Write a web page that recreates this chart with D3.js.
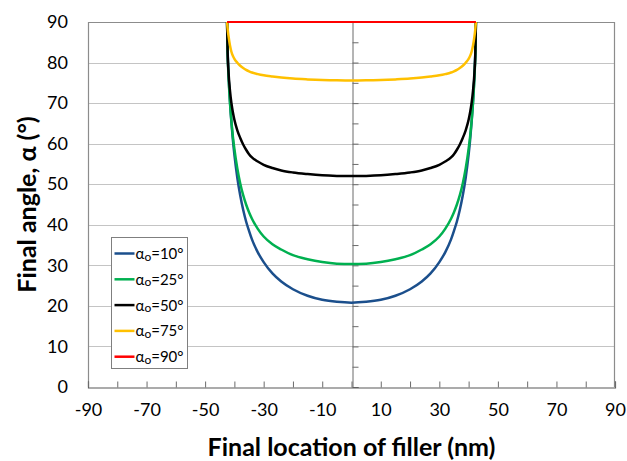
<!DOCTYPE html>
<html>
<head>
<meta charset="utf-8">
<script src="https://cdn.jsdelivr.net/npm/d3@7"></script>
<style>
  html, body { margin: 0; padding: 0; background: #fff; }
  svg { display: block; font-family: Lato, "Open Sans", "Liberation Sans", sans-serif; }
</style>
</head>
<body>
<svg id="chart" width="627" height="461"></svg>
<script>
// Final location of the filler (nm) at which each curve is sampled
const locations = [-42.5, -42.3, -42, -41.5, -41, -40.5, -40, -39, -38, -37, -36, -35, -34, -32, -30, -27, -24, -20, -15, -10, -5, 0,
                   5, 10, 15, 20, 24, 27, 30, 32, 34, 35, 36, 37, 38, 39, 40, 40.5, 41, 41.5, 42, 42.3, 42.5];

// Final angle (degrees) for each initial angle
const angle10 = [90, 82.8, 77.1, 70.3, 65.1, 60.8, 57.3, 51.6, 47.2, 43.7, 40.8, 38.5, 36.4, 33.2, 30.8, 28.0, 26.0, 24.1, 22.5, 21.5, 21.0, 20.8,
                 21.0, 21.5, 22.5, 24.1, 26.0, 28.0, 30.8, 33.2, 36.4, 38.5, 40.8, 43.7, 47.2, 51.6, 57.3, 60.8, 65.1, 70.3, 77.1, 82.8, 90];
const angle25 = [90, 82.3, 76.5, 70.1, 65.4, 61.7, 58.7, 53.9, 50.2, 47.3, 45.0, 43.1, 41.5, 39.0, 37.1, 35.2, 33.9, 32.5, 31.5, 30.8, 30.4, 30.3,
                 30.4, 30.8, 31.5, 32.5, 33.9, 35.2, 37.1, 39.0, 41.5, 43.1, 45.0, 47.3, 50.2, 53.9, 58.7, 61.7, 65.4, 70.1, 76.5, 82.3, 90];
const angle50 = [90, 82.4, 77.6, 73.0, 69.9, 67.7, 65.9, 63.3, 61.4, 59.8, 58.5, 57.4, 56.6, 55.6, 54.8, 54.0, 53.4, 52.9, 52.5, 52.2, 52.05, 52.0,
                 52.05, 52.2, 52.5, 52.9, 53.4, 54.0, 54.8, 55.6, 56.6, 57.4, 58.5, 59.8, 61.4, 63.3, 65.9, 67.7, 69.9, 73.0, 77.6, 82.4, 90];
const angle75 = [90, 88.3, 86.5, 84.2, 82.6, 81.6, 80.9, 79.95, 79.2, 78.65, 78.2, 77.85, 77.55, 77.15, 76.85, 76.55, 76.3, 76.05, 75.85, 75.7, 75.62, 75.6,
                 75.62, 75.7, 75.85, 76.05, 76.3, 76.55, 76.85, 77.15, 77.55, 77.85, 78.2, 78.65, 79.2, 79.95, 80.9, 81.6, 82.6, 84.2, 86.5, 88.3, 90];
const angle90 = [90, 90, 90, 90, 90, 90, 90, 90, 90, 90, 90, 90, 90, 90, 90, 90, 90, 90, 90, 90, 90, 90,
                 90, 90, 90, 90, 90, 90, 90, 90, 90, 90, 90, 90, 90, 90, 90, 90, 90, 90, 90, 90, 90];

// Legend labels: initial angle value shown after "αo="
const initialAngles = [10, 25, 50, 75, 90];
const seriesColors = ["#1B4F8C", "#00B050", "#000000", "#FFC000", "#FF0000"];

// Axis ticks
const xLabelTicks = [-90, -70, -50, -30, -10, 10, 30, 50, 70, 90];
const xMinorTicks = d3.range(-90, 91, 10);
const yLabelTicks = [0, 10, 20, 30, 40, 50, 60, 70, 80, 90];
const yMinorTicks = d3.range(0, 91, 5);

const series = [angle10, angle25, angle50, angle75, angle90];

const svg = d3.select("#chart");
const plot = { left: 88, right: 615, top: 22, bottom: 387 };

const x = d3.scaleLinear().domain([-90, 90]).range([plot.left, plot.right]);
const y = d3.scaleLinear().domain([0, 90]).range([plot.bottom, plot.top]);

// Horizontal gridlines
svg.append("g")
  .selectAll("line")
  .data(yLabelTicks.filter(v => v > 0 && v < 90))
  .join("line")
  .attr("x1", plot.left).attr("x2", plot.right)
  .attr("y1", d => Math.round(y(d)) + 0.5).attr("y2", d => Math.round(y(d)) + 0.5)
  .attr("stroke", "#c4c4c4").attr("stroke-width", 1);

// Plot area border (top, left, right)
svg.append("path")
  .attr("d", `M${plot.left + 0.5},${plot.bottom}V${plot.top + 0.5}H${plot.right - 0.5}V${plot.bottom}`)
  .attr("fill", "none").attr("stroke", "#8c8c8c").attr("stroke-width", 1.2);

// Vertical axis through zero with inward ticks
const yAxisCenter = svg.append("g")
  .attr("transform", `translate(${Math.round(x(0)) + 0.5},0)`)
  .call(d3.axisRight(y).tickValues(yMinorTicks).tickSize(6).tickFormat(""));
yAxisCenter.select(".domain").attr("stroke", "#6b6b6b");
yAxisCenter.selectAll(".tick line").attr("stroke", "#6b6b6b");

// Y tick labels on the left of the plot area
const yLabels = svg.append("g")
  .attr("transform", `translate(${plot.left},0)`)
  .call(d3.axisLeft(y).tickValues(yLabelTicks).tickSize(0).tickPadding(20).tickFormat(d => String(d)));
yLabels.select(".domain").remove();
yLabels.selectAll("text").attr("font-size", 18).attr("fill", "#000").attr("font-family", "Lato, sans-serif");

// Bottom axis with upward ticks every 10
const xTicks = svg.append("g")
  .attr("transform", `translate(0,${plot.bottom + 0.5})`)
  .call(d3.axisTop(x).tickValues(xMinorTicks).tickSize(6).tickFormat(""));
xTicks.select(".domain").attr("stroke", "#595959").attr("stroke-width", 1.2);
xTicks.selectAll(".tick line").attr("stroke", "#6b6b6b");

const xLabels = svg.append("g")
  .attr("transform", `translate(0,${plot.bottom})`)
  .call(d3.axisBottom(x).tickValues(xLabelTicks).tickSize(0).tickPadding(16).tickFormat(d => String(d)));
xLabels.select(".domain").remove();
xLabels.selectAll("text").attr("font-size", 18).attr("fill", "#000").attr("font-family", "Lato, sans-serif");

// Curves
const line = d3.line()
  .x((d, i) => x(locations[i]))
  .y(d => y(d))
  .curve(d3.curveMonotoneX);

svg.append("g")
  .selectAll("path")
  .data(series)
  .join("path")
  .attr("d", d => line(d))
  .attr("fill", "none")
  .attr("stroke", (d, i) => seriesColors[i])
  .attr("stroke-width", (d, i) => i === 4 ? 2 : 2.5)
  .attr("stroke-linejoin", "round");

// Axis titles
svg.append("text")
  .attr("x", (plot.left + plot.right) / 2)
  .attr("y", 456)
  .attr("text-anchor", "middle")
  .attr("font-size", 25).attr("font-weight", "bold")
  .text("Final location of filler (nm)");

svg.append("text")
  .attr("transform", `translate(36,${(plot.top + plot.bottom) / 2}) rotate(-90)`)
  .attr("text-anchor", "middle")
  .attr("font-size", 25).attr("font-weight", "bold")
  .text("Final angle, α (°)");

// Legend
const legend = svg.append("g").attr("transform", "translate(111.5,237.5)");
legend.append("rect")
  .attr("width", 76).attr("height", 131)
  .attr("fill", "#fff").attr("stroke", "#7f7f7f").attr("stroke-width", 1);

const items = legend.selectAll("g.item")
  .data(initialAngles)
  .join("g")
  .attr("class", "item")
  .attr("transform", (d, i) => `translate(0,${16 + i * 25.8})`);

items.append("line")
  .attr("x1", 3).attr("x2", 23)
  .attr("stroke", (d, i) => seriesColors[i])
  .attr("stroke-width", 2.5);

const labels = items.append("text")
  .attr("x", 24).attr("y", 5.5)
  .attr("font-size", 15).attr("fill", "#000");
labels.append("tspan").text("α");
labels.append("tspan").attr("font-size", 12).attr("dy", 1.5).text("o");
labels.append("tspan").attr("dy", -1.5).text(d => `=${d}°`);
</script>
</body>
</html>
